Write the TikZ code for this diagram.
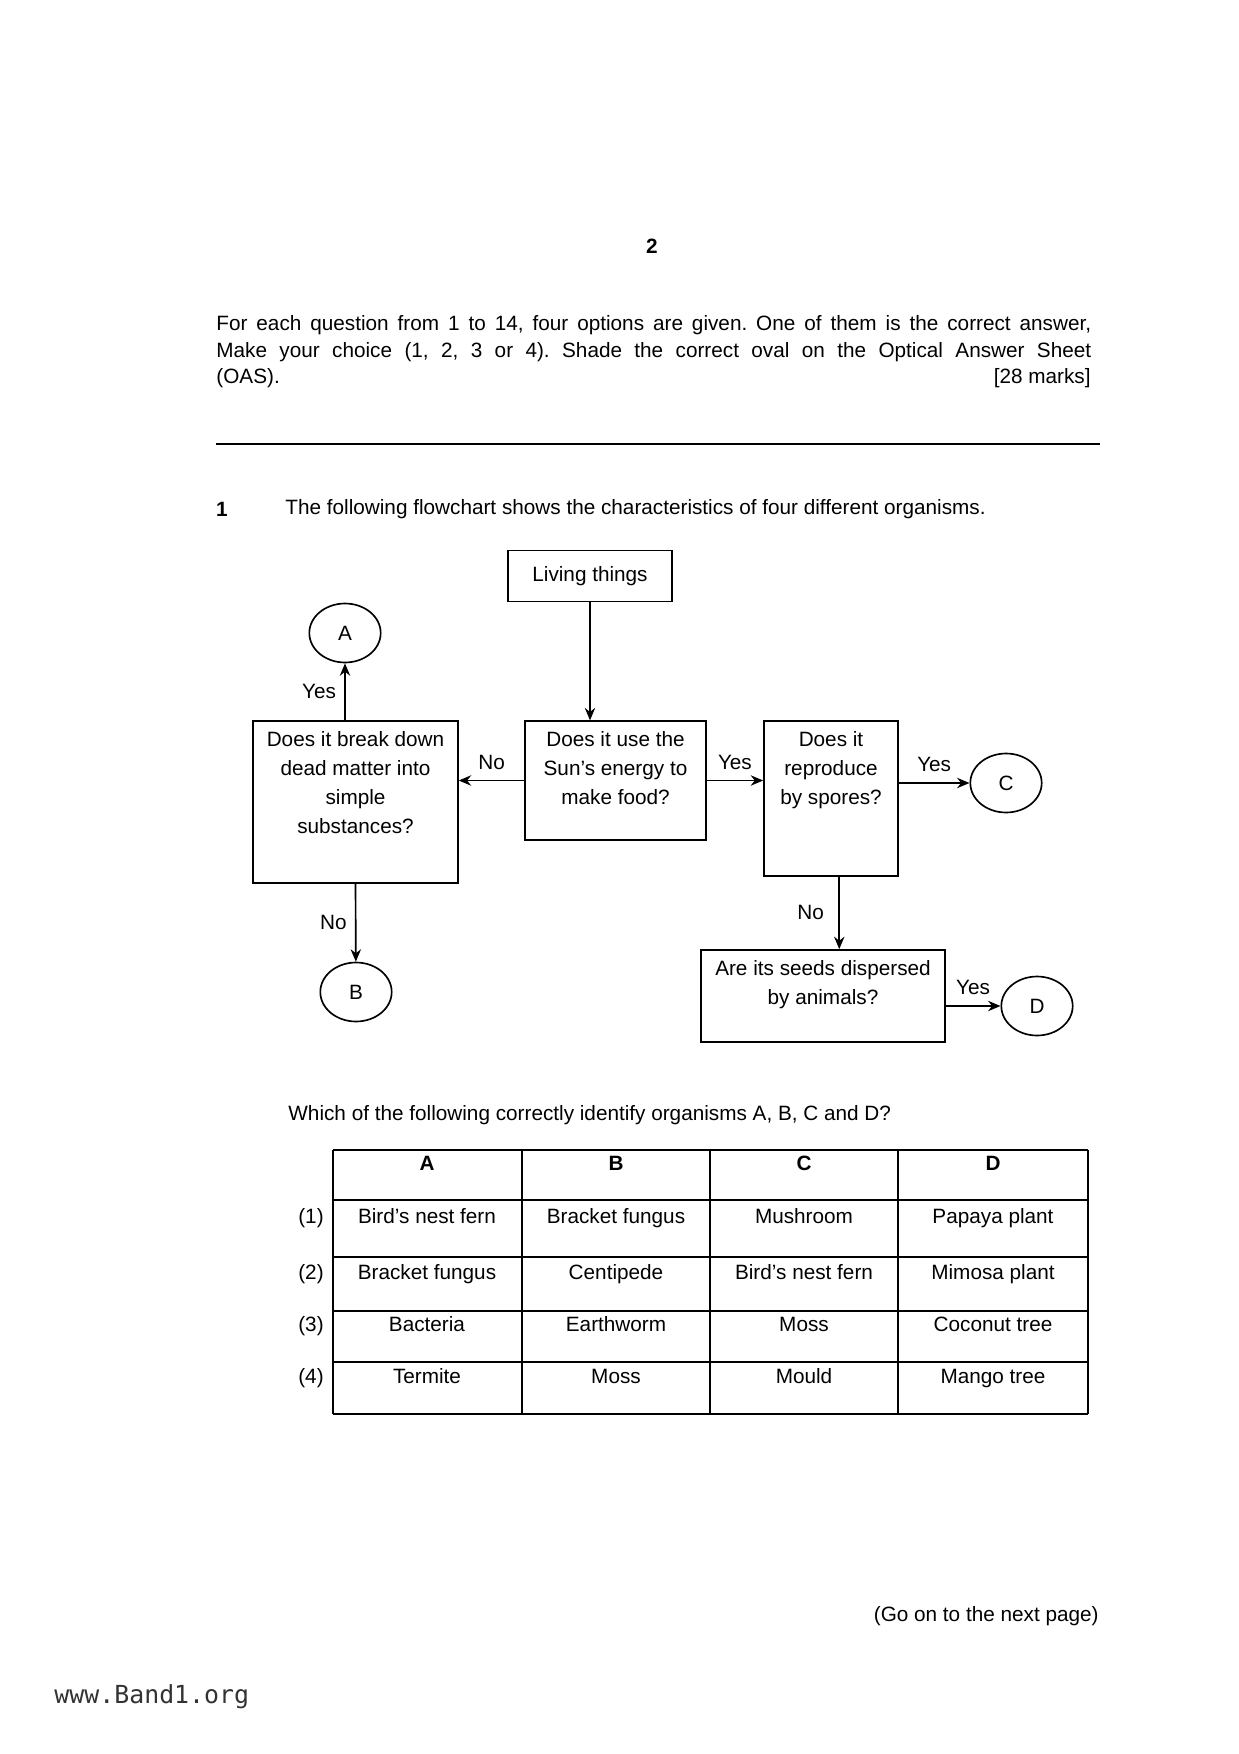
\documentclass[tikz,border=0pt]{standalone}
\usepackage{fontspec}
\setmainfont{Liberation Sans}
\setmonofont{DejaVu Sans Mono}
\usetikzlibrary{shapes.geometric, arrows, arrows.meta, positioning}
\tikzstyle{start} = [rectangle, minimum width=2.78cm, minimum height=0.86cm, text centered, draw=black, thick]
\tikzstyle{question} = [rectangle, inner sep=5pt, draw=black, thick]
\tikzstyle{organism} = [ellipse, minimum width=1.21cm, minimum height=1cm, inner sep=0pt, draw=black, thick]
\tikzstyle{arrow} = [thick,->,>={Stealth[length=6pt, width=5pt]}]
\tikzstyle{reply} = [inner sep=2pt]
\tikzstyle{cell} = [text height=7.5pt, text depth=2pt]
\tikzstyle{tableline} = [thick]
\newcommand{\qbox}[3]{\parbox[t][#2][t]{#1}{\centering #3}}

\begin{document}
\frenchspacing
\begin{tikzpicture}[x=0.01695cm, y=-0.01695cm, every node/.style={font=\fontsize{10}{14}\selectfont}, align=center]
\useasboundingbox (0,0) rectangle (1239,1754);

% Instructions
\node (page) at (652,246) {\textbf{2}};
\node (instr1) [anchor=west, inner sep=0pt] at (216,325) {\makebox[14.83cm][s]{For each question from 1 to 14, four options are given. One of them is the correct answer,}};
\node (instr2) [anchor=west, inner sep=0pt] at (216,352) {\makebox[14.83cm][s]{Make your choice (1, 2, 3 or 4). Shade the correct oval on the Optical Answer Sheet}};
\node (instr3) [anchor=west, inner sep=0pt] at (216,378) {(OAS).};
\node (marks) [anchor=east, inner sep=0pt] at (1091,378) {[28 marks]};
\draw[line width=1pt] (216,444) -- (1100,444);

% Question 1
\node (qnum) at (222,509) {\textbf{1}};
\node (qtext) [anchor=west, inner sep=0pt] at (285,509) {The following flowchart shows the characteristics of four different organisms.};

% Flowchart
\node (living) [start] at (590,576) {Living things};
\node (breakdown) [question] at (355.5,802) {\qbox{3.12cm}{2.39cm}{Does it break down\\dead matter into\\simple\\substances?}};
\node (sun) [question] at (615.5,780.5) {\qbox{2.71cm}{1.66cm}{Does it use the\\Sun's energy to\\make food?}};
\node (spores) [question] at (831,798.5) {\qbox{1.92cm}{2.27cm}{Does it\\reproduce\\by spores?}};
\node (seeds) [question] at (823,996) {\qbox{3.78cm}{1.21cm}{Are its seeds dispersed\\by animals?}};

\node (a) [organism] at (345,633) {A};
\node (b) [organism] at (356,992) {B};
\node (c) [organism] at (1006,783) {C};
\node (d) [organism] at (1037,1006) {D};

\draw[arrow] (living) -- (living |- sun.north);
\draw[arrow] (sun.west) -- node[reply, above=3pt] {No} (sun.west -| breakdown.east);
\draw[arrow] (sun.east) -- node[reply, above=3pt] {Yes} (sun.east -| spores.west);
\draw[arrow] (spores.east |- c) -- node[reply, above=3pt] {Yes} (c);
\draw[arrow] (breakdown.north -| a) -- node[reply, left=2pt] {Yes} (a);
\draw[arrow] (breakdown.south) -- node[reply, left=2pt] {No} (b);
\draw[arrow] ([xshift=0.14cm]spores.south) -- node[reply, left=5pt] {No} ([xshift=0.14cm]spores.south |- seeds.north);
\draw[arrow] (seeds.east |- d) -- node[reply, above=3pt] {Yes} (d);

% Answer table
\node (ask) [anchor=west, inner sep=0pt] at (288,1115) {Which of the following correctly identify organisms A, B, C and D?};
\foreach \y in {1150,1200,1257,1311,1362,1414}
  \draw[tableline] (333,\y) -- (1088,\y);
\foreach \x in {333,522,710,898,1088}
  \draw[tableline] (\x,1150) -- (\x,1414);
\foreach \col/\x in {A/427,B/616,C/804,D/993}
  \node (head\col) [cell] at (\x,1165) {\textbf{\col}};
\foreach \n/\y/\ca/\cb/\cc/\cd in {1/1218/Bird's nest fern/Bracket fungus/Mushroom/Papaya plant,
    2/1274/Bracket fungus/Centipede/Bird's nest fern/Mimosa plant,
    3/1326/Bacteria/Earthworm/Moss/Coconut tree,
    4/1378/Termite/Moss/Mould/Mango tree}{
  \node (opt\n) [cell] at (311,\y) {(\n)};
  \node (opt\n-a) [cell] at (427,\y) {\ca};
  \node (opt\n-b) [cell] at (616,\y) {\cb};
  \node (opt\n-c) [cell] at (804,\y) {\cc};
  \node (opt\n-d) [cell] at (993,\y) {\cd};
}

% Footer
\node (next) [anchor=east, inner sep=0pt] at (1099,1616) {(Go on to the next page)};
\node (site) [anchor=west, inner sep=0pt, font=\fontsize{12}{14}\ttfamily, text=black!80] at (54,1697) {www.Band1.org};

\end{tikzpicture}
\end{document}
